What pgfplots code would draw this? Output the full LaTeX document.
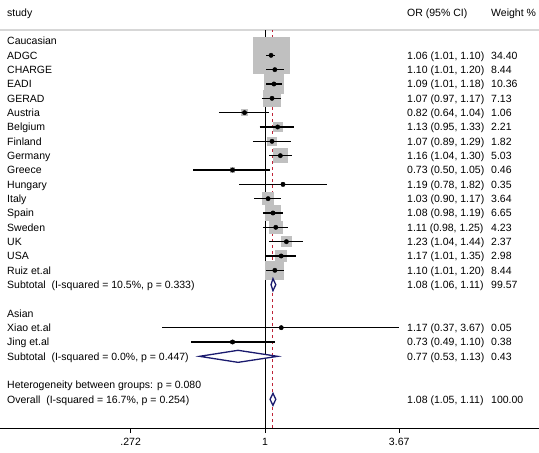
\documentclass[border=0pt]{standalone}
\usepackage{fontspec}
\setmainfont{Liberation Sans}
\usepackage{pgfplots}
\usepackage{pgfplotstable}
\pgfplotsset{compat=1.18}
\definecolor{boxgray}{RGB}{192,192,192}
\definecolor{navyd}{RGB}{26,26,110}
\definecolor{refred}{RGB}{190,35,55}
\definecolor{hline}{RGB}{215,215,215}
\newcommand{\T}[3]{\node[anchor=base west, inner sep=0pt, yshift=-3.8pt] at (axis cs:#1,#2) {#3};}
\pgfplotstableread{
est row w
1.06 -2 34.40
1.10 -3 8.44
1.09 -4 10.36
1.07 -5 7.13
0.82 -6 1.06
1.13 -7 2.21
1.07 -8 1.82
1.16 -9 5.03
0.73 -10 0.46
1.19 -11 0.35
1.03 -12 3.64
1.08 -13 6.65
1.11 -14 4.23
1.23 -15 2.37
1.17 -16 2.98
1.10 -17 8.44
1.17 -21 0.05
0.73 -22 0.38
}\studies
\begin{document}
\begin{tikzpicture}[font=\fontsize{10.5}{12}\selectfont]
\begin{axis}[
  scale only axis, width=539pt, height=428pt,
  xmode=log, xmin=0.0767, xmax=14.22,
  ymin=-28, ymax=1.86,
  axis x line=bottom, axis y line=none,
  axis line style={-, line width=0.8pt},
  xtick={0.272,1,3.67}, xticklabels={.272,1,3.67},
  xminorticks=false, tick align=outside, major tick length=5pt,
  xtick style={black, line width=0.8pt},
  xticklabel style={font=\fontsize{10.5}{12}\selectfont, yshift=-2pt},
  clip=false, clip marker paths=true,
  unbounded coords=jump,
]
\coordinate (tl) at (rel axis cs:0,1);
\coordinate (br) at (rel axis cs:1,0);
% header separator
\addplot[hline, line width=1.5pt] coordinates {(0.0767,-0.23) (14.22,-0.23)};
% reference lines
\addplot[black, line width=0.8pt] coordinates {(1,-28) (1,-0.23)};
\addplot[refred, line width=1pt, dash pattern=on 3pt off 3pt] coordinates {(1.08,-28) (1.08,-0.23)};
% weight boxes
\addplot[scatter, only marks, mark=square*,
  mark options={fill=boxgray, draw=boxgray, line width=0pt},
  visualization depends on={\thisrow{w} \as \wt},
  scatter/@pre marker code/.code={\pgfmathsetmacro\hs{3.07*sqrt(\wt)}\scope[mark size=\hs pt, fill=boxgray, draw=boxgray, line width=0pt]},
  scatter/@post marker code/.code={\endscope},
  point meta=\thisrow{w}] table[x=est, y=row] {\studies};
% confidence intervals
\addplot[black, line width=1.5pt] coordinates {
(1.01,-2) (1.10,-2) (nan,nan)
(1.01,-3) (1.20,-3) (nan,nan)
(1.01,-4) (1.18,-4) (nan,nan)
(0.97,-5) (1.17,-5) (nan,nan)
(0.64,-6) (1.04,-6) (nan,nan)
(0.95,-7) (1.33,-7) (nan,nan)
(0.89,-8) (1.29,-8) (nan,nan)
(1.04,-9) (1.30,-9) (nan,nan)
(0.50,-10) (1.05,-10) (nan,nan)
(0.78,-11) (1.82,-11) (nan,nan)
(0.90,-12) (1.17,-12) (nan,nan)
(0.98,-13) (1.19,-13) (nan,nan)
(0.98,-14) (1.25,-14) (nan,nan)
(1.04,-15) (1.44,-15) (nan,nan)
(1.01,-16) (1.35,-16) (nan,nan)
(1.01,-17) (1.20,-17) (nan,nan)
(0.37,-21) (3.67,-21) (nan,nan)
(0.49,-22) (1.10,-22)
};
% point estimates
\addplot[only marks, mark=*, mark size=2.2pt, black] table[x=est, y=row] {\studies};
% pooled diamonds
\addplot[navyd, fill=white, line width=1.3pt] coordinates {(1.06,-18) (1.08,-17.58) (1.11,-18) (1.08,-18.42)} -- cycle;
\addplot[navyd, fill=white, line width=1.3pt] coordinates {(0.53,-23) (0.77,-22.58) (1.13,-23) (0.77,-23.42)} -- cycle;
\addplot[navyd, fill=white, line width=1.3pt] coordinates {(1.05,-26) (1.08,-25.58) (1.11,-26) (1.08,-26.42)} -- cycle;
% text columns
\T{0.0821}{1}{study}
\T{3.959}{1}{OR (95\% CI)}
\T{8.93}{1}{Weight \%}
\T{0.0821}{-1}{Caucasian}
\T{0.0821}{-2}{ADGC}          \T{3.959}{-2}{1.06 (1.01, 1.10)}  \T{8.93}{-2}{34.40}
\T{0.0821}{-3}{CHARGE}        \T{3.959}{-3}{1.10 (1.01, 1.20)}  \T{8.93}{-3}{8.44}
\T{0.0821}{-4}{EADI}          \T{3.959}{-4}{1.09 (1.01, 1.18)}  \T{8.93}{-4}{10.36}
\T{0.0821}{-5}{GERAD}         \T{3.959}{-5}{1.07 (0.97, 1.17)}  \T{8.93}{-5}{7.13}
\T{0.0821}{-6}{Austria}       \T{3.959}{-6}{0.82 (0.64, 1.04)}  \T{8.93}{-6}{1.06}
\T{0.0821}{-7}{Belgium}       \T{3.959}{-7}{1.13 (0.95, 1.33)}  \T{8.93}{-7}{2.21}
\T{0.0821}{-8}{Finland}       \T{3.959}{-8}{1.07 (0.89, 1.29)}  \T{8.93}{-8}{1.82}
\T{0.0821}{-9}{Germany}       \T{3.959}{-9}{1.16 (1.04, 1.30)}  \T{8.93}{-9}{5.03}
\T{0.0821}{-10}{Greece}       \T{3.959}{-10}{0.73 (0.50, 1.05)} \T{8.93}{-10}{0.46}
\T{0.0821}{-11}{Hungary}      \T{3.959}{-11}{1.19 (0.78, 1.82)} \T{8.93}{-11}{0.35}
\T{0.0821}{-12}{Italy}        \T{3.959}{-12}{1.03 (0.90, 1.17)} \T{8.93}{-12}{3.64}
\T{0.0821}{-13}{Spain}        \T{3.959}{-13}{1.08 (0.98, 1.19)} \T{8.93}{-13}{6.65}
\T{0.0821}{-14}{Sweden}       \T{3.959}{-14}{1.11 (0.98, 1.25)} \T{8.93}{-14}{4.23}
\T{0.0821}{-15}{UK}           \T{3.959}{-15}{1.23 (1.04, 1.44)} \T{8.93}{-15}{2.37}
\T{0.0821}{-16}{USA}          \T{3.959}{-16}{1.17 (1.01, 1.35)} \T{8.93}{-16}{2.98}
\T{0.0821}{-17}{Ruiz et.al}   \T{3.959}{-17}{1.10 (1.01, 1.20)} \T{8.93}{-17}{8.44}
\T{0.0821}{-18}{Subtotal\ \ (I-squared = 10.5\%, p = 0.333)} \T{3.959}{-18}{1.08 (1.06, 1.11)} \T{8.93}{-18}{99.57}
\T{0.0821}{-20}{Asian}
\T{0.0821}{-21}{Xiao et.al}   \T{3.959}{-21}{1.17 (0.37, 3.67)} \T{8.93}{-21}{0.05}
\T{0.0821}{-22}{Jing et.al}   \T{3.959}{-22}{0.73 (0.49, 1.10)} \T{8.93}{-22}{0.38}
\T{0.0821}{-23}{Subtotal\ \ (I-squared = 0.0\%, p = 0.447)} \T{3.959}{-23}{0.77 (0.53, 1.13)} \T{8.93}{-23}{0.43}
\T{0.0821}{-25}{Heterogeneity between groups: p = 0.080}
\T{0.0821}{-26}{Overall\ \ (I-squared = 16.7\%, p = 0.254)} \T{3.959}{-26}{1.08 (1.05, 1.11)} \T{8.93}{-26}{100.00}
\end{axis}
\pgfresetboundingbox
\path (tl) rectangle ([yshift=-24pt]br);
\end{tikzpicture}
\end{document}
